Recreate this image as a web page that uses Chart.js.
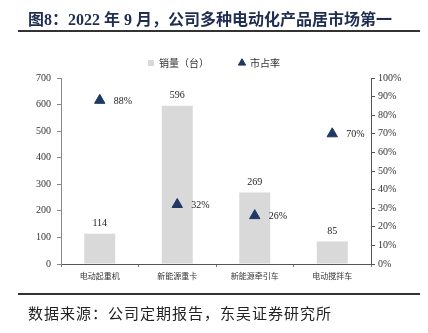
<!DOCTYPE html>
<html>
<head>
<meta charset="utf-8">
<script src="https://cdn.jsdelivr.net/npm/chart.js@4"></script>
<style>
  html, body { margin: 0; padding: 0; background: #fff; }
  body { width: 428px; height: 333px; position: relative; overflow: hidden; }
  #title {
    position: absolute; left: 28px; top: 6px;
    font: bold 16px "Liberation Serif", "Noto Sans CJK SC", serif;
    color: #1f2d50; white-space: nowrap;
  }
  .rule { position: absolute; left: 18px; width: 402px; background: #333; }
  #source {
    position: absolute; left: 28px; top: 302px;
    font: 15px "Noto Sans CJK SC", sans-serif; color: #222;
    white-space: nowrap; letter-spacing: 1px;
  }
  #myChart { position: absolute; left: 0; top: 0; }
</style>
</head>
<body>
<canvas id="myChart" width="428" height="333"></canvas>
<div id="title">图8：2022 年 9 月，公司多种电动化产品居市场第一</div>
<div class="rule" style="top:30px;height:2px"></div>
<div class="rule" style="top:293px;height:2px"></div>
<div id="source">数据来源：公司定期报告，东吴证券研究所</div>

<script>
const categories = ["电动起重机", "新能源重卡", "新能源牵引车", "电动搅拌车"];
const sales = [114, 596, 269, 85];
const share = [88, 32, 26, 70];

const navy = "#1f3864";
const serif = "'Liberation Serif', 'Times New Roman', serif";

// value labels: numbers above bars, percentages beside triangles
const labelPlugin = {
  id: "valueLabels",
  afterDatasetsDraw(chart) {
    const ctx = chart.ctx;
    ctx.save();
    ctx.font = "10px " + serif;
    ctx.fillStyle = "#222";
    chart.getDatasetMeta(0).data.forEach((bar, i) => {
      ctx.textAlign = "center";
      ctx.textBaseline = "bottom";
      ctx.fillText(sales[i], bar.x, bar.y - 5);
    });
    chart.getDatasetMeta(1).data.forEach((pt, i) => {
      ctx.textAlign = "left";
      ctx.textBaseline = "middle";
      ctx.fillText(share[i] + "%", pt.x + 14, pt.y + 1);
    });
    ctx.restore();
  },
};

new Chart("myChart", {
  type: "bar",
  data: {
    labels: categories,
    datasets: [
      {
        label: "销量（台）",
        data: sales,
        backgroundColor: "#d9d9d9",
        pointStyle: "rect",
        barPercentage: 0.4,
        categoryPercentage: 1,
        yAxisID: "y",
        order: 2,
      },
      {
        type: "line",
        label: "市占率",
        data: share,
        yAxisID: "y1",
        showLine: false,
        pointStyle: "triangle",
        pointRadius: 6,
        pointBackgroundColor: navy,
        pointBorderColor: navy,
        backgroundColor: navy,
        borderColor: navy,
        order: 1,
      },
    ],
  },
  options: {
    responsive: false,
    animation: false,
    devicePixelRatio: 1,
    layout: { padding: { top: 28, left: 0, right: 0, bottom: 0 } },
    plugins: {
      tooltip: { enabled: false },
      legend: {
        labels: {
          usePointStyle: true,
          boxWidth: 6,
          boxHeight: 6,
          padding: 30,
          color: "#333",
          font: { size: 10, family: "'Noto Sans CJK SC', sans-serif" },
          sort: (a, b) => a.datasetIndex - b.datasetIndex,
        },
      },
    },
    scales: {
      x: {
        grid: { offset: true, drawOnChartArea: false, drawTicks: true, tickLength: 3, color: "#777" },
        border: { color: "#555" },
        ticks: {
          color: "#333",
          padding: 4,
          maxRotation: 0,
          font: { size: 8, family: "'Noto Sans CJK SC', sans-serif" },
        },
        afterFit: (s) => { s.height = 69; },
      },
      y: {
        position: "left",
        min: 0,
        max: 700,
        ticks: {
          stepSize: 100,
          color: "#333",
          padding: 6,
          font: { size: 10, family: serif },
        },
        grid: { drawOnChartArea: false, drawTicks: true, tickLength: 4, color: "#888" },
        border: { color: "#888" },
        afterFit: (s) => { s.width = 61; },
      },
      y1: {
        position: "right",
        min: 0,
        max: 100,
        ticks: {
          stepSize: 10,
          color: "#333",
          padding: 3,
          font: { size: 10, family: serif },
          callback: (v) => v + "%",
        },
        grid: { drawOnChartArea: false, drawTicks: true, tickLength: 4, color: "#555" },
        border: { color: "#555" },
        afterFit: (s) => { s.width = 57; },
      },
    },
  },
  plugins: [labelPlugin],
});
</script>
</body>
</html>
